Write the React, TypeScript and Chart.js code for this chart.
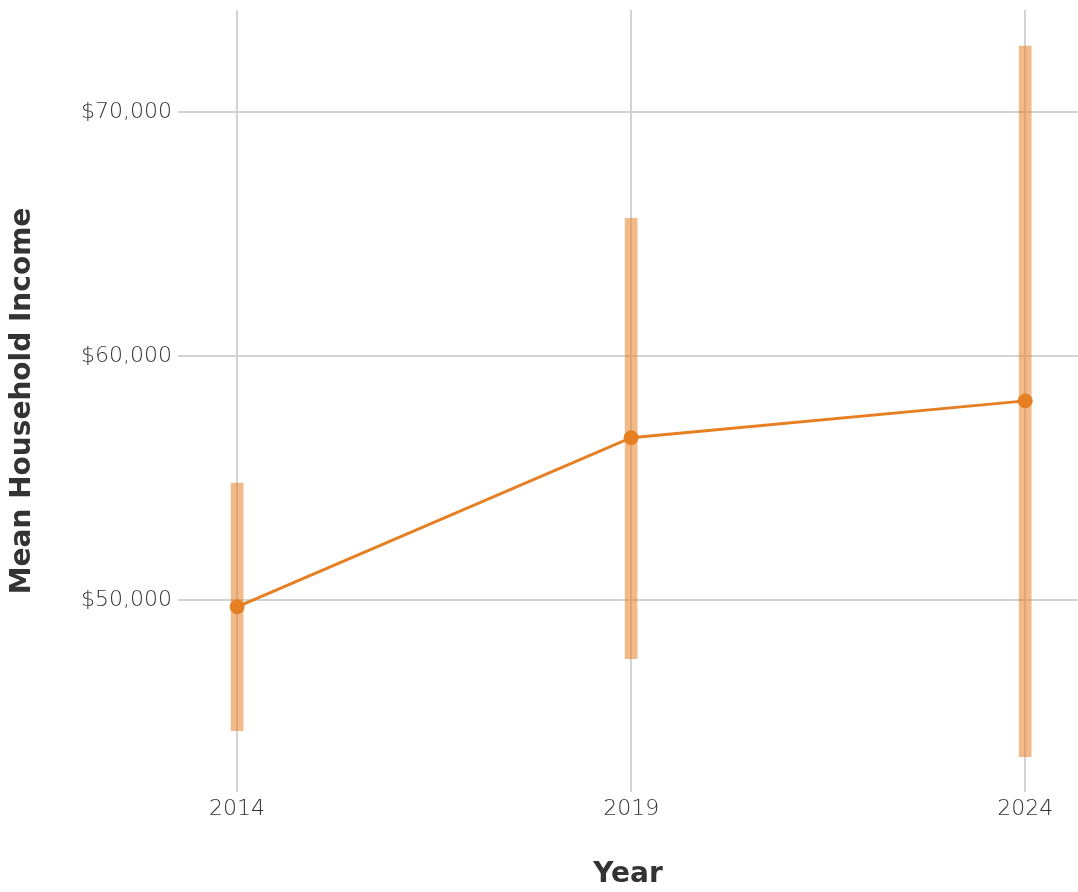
import React, { useEffect, useRef } from "react";
import { Chart, registerables } from "chart.js";

Chart.register(...registerables);

const years: number[] = [2014, 2019, 2024];
const meanIncome: number[] = [49720, 56650, 58160];
const lowerBound: number[] = [44640, 47590, 43580];
const upperBound: number[] = [54790, 65640, 72700];
const yTickValues: number[] = [50000, 60000, 70000];
const xTickValues: number[] = [2014, 2019, 2024];

const FONT = "'Century Gothic', 'URW Gothic', 'DejaVu Sans', sans-serif";

export default function App() {
  const ref = useRef<HTMLCanvasElement | null>(null);

  useEffect(() => {
    document.body.style.margin = "0";
    const canvas = ref.current;
    if (!canvas) return;
    const chart = new Chart(canvas, {
      type: "line",
      data: {
        datasets: [
          {
            type: "line",
            label: "Mean",
            data: years.map((x, i) => ({ x, y: meanIncome[i] })),
            borderColor: "#E67E22",
            backgroundColor: "#E67E22",
            borderWidth: 3,
            pointRadius: 7,
            pointBorderWidth: 1,
            pointBackgroundColor: "#E67E22",
            pointBorderColor: "#E67E22",
            tension: 0,
            order: 0,
          },
          {
            type: "bar",
            label: "Range",
            data: years.map((x, i) => ({ x, y: [lowerBound[i], upperBound[i]] })) as any,
            backgroundColor: "rgba(232,128,40,0.55)",
            borderWidth: 0,
            barThickness: 12,
            grouped: false,
            order: 1,
          } as any,
        ],
      },
      options: {
        animation: false,
        responsive: false,
        layout: { autoPadding: false, padding: { top: 10, right: 0, left: 0, bottom: 0 } },
        plugins: { legend: { display: false }, tooltip: { enabled: false } },
        scales: {
          x: {
            type: "linear",
            offset: false,
            min: 2013.25,
            max: 2024.67,
            afterBuildTicks: (s: any) => {
              s.ticks = xTickValues.map((v) => ({ value: v }));
            },
            afterFit: (s: any) => {
              s.height = 100;
              s.paddingLeft = 0;
              s.paddingRight = 0;
            },
            ticks: {
              color: "#333333",
              font: { family: FONT, size: 22, weight: "300" as any },
              padding: 4,
              callback: (v: any) => String(v),
            },
            grid: { color: "#d3d3d3", lineWidth: 2, drawTicks: false, offset: false },
            border: { display: false },
            title: {
              display: true,
              text: "Year",
              color: "#333333",
              font: { family: FONT, size: 28, weight: "bold" },
              padding: { top: 0, bottom: 0 },
            },
          },
          y: {
            type: "linear",
            min: 42130,
            max: 74180,
            afterBuildTicks: (s: any) => {
              s.ticks = yTickValues.map((v) => ({ value: v }));
            },
            afterFit: (s: any) => {
              s.width = 178;
              s.paddingTop = 0;
              s.paddingBottom = 0;
            },
            ticks: {
              color: "#333333",
              font: { family: FONT, size: 22, weight: "300" as any },
              padding: 6,
              callback: (v: any) => "$" + Number(v).toLocaleString("en-US"),
            },
            grid: { color: "#d3d3d3", lineWidth: 2, drawTicks: false },
            border: { display: false },
            title: {
              display: true,
              text: "Mean Household Income",
              color: "#333333",
              font: { family: FONT, size: 28, weight: "bold" },
              padding: { top: 6, bottom: 0 },
            },
          },
        },
      },
    });
    return () => chart.destroy();
  }, []);

  return <canvas ref={ref} width={1078} height={892} style={{ display: "block" }} />;
}
